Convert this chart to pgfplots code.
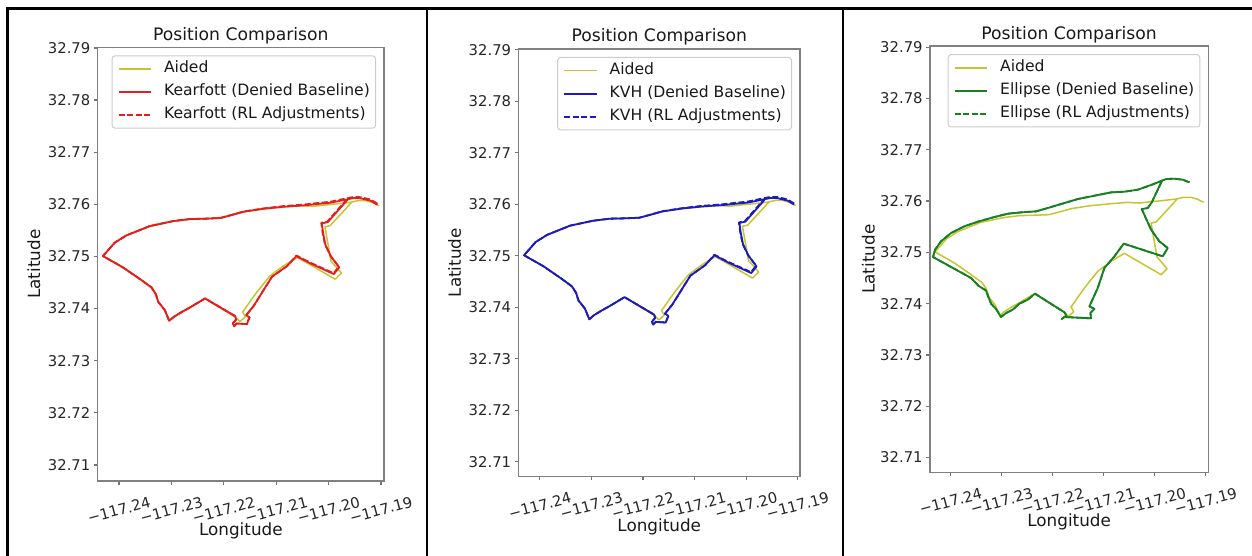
\documentclass[border=0pt]{standalone}
\usepackage{fontspec}
\setmainfont{DejaVu Sans}
\usepackage{pgfplots}
\pgfplotsset{compat=1.18}
\usepackage{pgfplotstable}

\definecolor{aided}{RGB}{200,196,48}
\definecolor{kred}{RGB}{228,30,30}
\definecolor{kblue}{RGB}{28,28,190}
\definecolor{kgreen}{RGB}{22,128,34}

% longitude / latitude are read as text and shifted exactly (no precision loss)
\def\lonstrip-117.#1\relax{\def\pgfmathresult{-0.#1}}
\def\latstrip32.#1\relax{\def\pgfmathresult{0.#1}}
\newcommand\tl[1]{\mbox{\fontsize{7.4}{8}\selectfont #1}}

\pgfplotstableread{
lon lat
-117.19038 32.75974
-117.19156 32.76033
-117.19287 32.76072
-117.19431 32.76072
-117.19581 32.76039
-117.19810 32.76013
-117.20071 32.75987
-117.20300 32.75961
-117.20529 32.75974
-117.20855 32.75948
-117.21241 32.75912
-117.21624 32.75855
-117.21879 32.75784
-117.22071 32.75734
-117.22390 32.75722
-117.22646 32.75716
-117.22965 32.75677
-117.23412 32.75583
-117.23859 32.75404
-117.24082 32.75264
-117.24306 32.75008
-117.23923 32.74790
-117.23572 32.74547
-117.23380 32.74406
-117.23297 32.74278
-117.23252 32.74131
-117.23125 32.73971
-117.23042 32.73766
-117.22952 32.73843
-117.22805 32.73933
-117.22646 32.74022
-117.22358 32.74195
-117.21770 32.73831
-117.21692 32.73753
-117.21587 32.73844
-117.21640 32.73935
-117.21378 32.74305
-117.21117 32.74630
-117.20855 32.74825
-117.20594 32.74981
-117.19875 32.74565
-117.19757 32.74682
-117.19954 32.74909
-117.20071 32.75571
-117.19973 32.75591
-117.19810 32.75766
-117.19548 32.76052
}\aided

\pgfplotstableread{
lon lat
-117.19070 32.75993
-117.19197 32.76070
-117.19389 32.76115
-117.19517 32.76121
-117.19708 32.76083
-117.19964 32.76031
-117.20219 32.76006
-117.20474 32.75980
-117.20858 32.75955
-117.21241 32.75916
-117.21624 32.75859
-117.21879 32.75788
-117.22071 32.75737
-117.22390 32.75724
-117.22646 32.75718
-117.22965 32.75679
-117.23412 32.75583
-117.23859 32.75404
-117.24082 32.75264
-117.24306 32.75008
-117.23923 32.74790
-117.23572 32.74547
-117.23380 32.74406
-117.23297 32.74278
-117.23252 32.74131
-117.23125 32.73971
-117.23042 32.73766
-117.22952 32.73843
-117.22805 32.73933
-117.22646 32.74022
-117.22358 32.74195
-117.21784 32.73856
-117.21764 32.73792
-117.21828 32.73715
-117.21803 32.73664
-117.21752 32.73715
-117.21560 32.73702
-117.21509 32.73830
-117.21573 32.73875
-117.21432 32.74048
-117.21241 32.74355
-117.21081 32.74611
-117.20794 32.74816
-117.20615 32.75008
-117.20347 32.74867
-117.19900 32.74662
-117.19798 32.74790
-117.19951 32.74995
-117.20059 32.75219
-117.20104 32.75443
-117.20130 32.75635
-117.20015 32.75660
-117.19644 32.76083
}\kearfott

\pgfplotstableread{
lon lat
-117.19070 32.76013
-117.19197 32.76092
-117.19389 32.76137
-117.19517 32.76143
-117.19708 32.76105
-117.19964 32.76051
-117.20219 32.76024
-117.20474 32.75996
-117.20858 32.75967
-117.21241 32.75922
-117.21624 32.75862
-117.21879 32.75790
-117.22071 32.75737
-117.22390 32.75724
-117.22646 32.75718
-117.22965 32.75679
-117.23412 32.75583
-117.23859 32.75404
-117.24082 32.75264
-117.24306 32.75008
-117.23923 32.74790
-117.23572 32.74547
-117.23380 32.74406
-117.23297 32.74278
-117.23252 32.74131
-117.23125 32.73971
-117.23042 32.73766
-117.22952 32.73843
-117.22805 32.73933
-117.22646 32.74022
-117.22358 32.74195
-117.21784 32.73856
-117.21764 32.73792
-117.21828 32.73715
-117.21803 32.73664
-117.21752 32.73715
-117.21560 32.73702
-117.21509 32.73830
-117.21573 32.73875
-117.21432 32.74048
-117.21241 32.74355
-117.21081 32.74611
-117.20794 32.74816
-117.20615 32.75018
-117.20347 32.74880
-117.19905 32.74680
-117.19805 32.74805
-117.19960 32.75005
-117.20068 32.75229
-117.20114 32.75453
-117.20140 32.75645
-117.20025 32.75670
-117.19654 32.76093
}\kearfottrl

\pgfplotstableread{
lon lat
-117.19319 32.76364
-117.19450 32.76416
-117.19614 32.76435
-117.19777 32.76429
-117.19875 32.76390
-117.20071 32.76312
-117.20333 32.76221
-117.20594 32.76182
-117.20855 32.76169
-117.21182 32.76104
-117.21509 32.76039
-117.21770 32.75961
-117.22097 32.75864
-117.22326 32.75799
-117.22620 32.75779
-117.22882 32.75753
-117.23143 32.75688
-117.23470 32.75597
-117.23731 32.75507
-117.23993 32.75377
-117.24189 32.75214
-117.24306 32.75052
-117.24346 32.74909
-117.23600 32.74500
-117.23457 32.74351
-117.23306 32.74253
-117.23261 32.74130
-117.23208 32.74000
-117.23110 32.73896
-117.23012 32.73740
-117.22914 32.73818
-117.22784 32.73883
-117.22653 32.74000
-117.22489 32.74078
-117.22346 32.74195
-117.21770 32.73831
-117.21731 32.73766
-117.21823 32.73701
-117.21770 32.73740
-117.21248 32.73714
-117.21260 32.73818
-117.21182 32.73896
-117.21280 32.73948
-117.21117 32.74305
-117.20986 32.74695
-117.20790 32.74922
-117.20607 32.75169
-117.19842 32.74922
-117.19744 32.75084
-117.19908 32.75214
-117.20071 32.75442
-117.20254 32.75844
-117.20136 32.75864
-117.20058 32.75974
-117.19862 32.76383
}\ellipse

\pgfplotsset{
  panel/.style={
    scale only axis, anchor=south west, clip=true,
    /pgf/number format/assume math mode=true,
    x coord trafo/.code={\lonstrip##1\relax},
    y coord trafo/.code={\latstrip##1\relax},
    axis line style={black!50, line width=0.6pt},
    tick align=outside, xtick pos=left, ytick pos=left,
    major tick length=2pt,
    every tick/.style={black!55, line width=0.6pt},
    xtick={-117.24,-117.23,-117.22,-117.21,-117.20,-117.19},
    xticklabels={\tl{−117.24},\tl{−117.23},\tl{−117.22},\tl{−117.21},\tl{−117.20},\tl{−117.19}},
    ytick={32.71,32.72,32.73,32.74,32.75,32.76,32.77,32.78,32.79},
    yticklabels={\tl{32.71},\tl{32.72},\tl{32.73},\tl{32.74},\tl{32.75},\tl{32.76},\tl{32.77},\tl{32.78},\tl{32.79}},
    tick label style={font=\fontsize{7.4}{8}\selectfont, text=black!85},
    xticklabel style={rotate=15, anchor=center, inner sep=0pt},
    xticklabel shift=12.5pt,
    yticklabel style={anchor=east, inner sep=0pt, xshift=-1.5pt},
    every axis title shift=0pt,
    title style={font=\fontsize{8.6}{10}\selectfont, text=black!90, anchor=base, yshift=3.5pt},
    xlabel style={font=\fontsize{8.4}{10}\selectfont, text=black!90, at={(axis description cs:0.5,0)}, anchor=base, yshift=-27.3pt},
    ylabel style={font=\fontsize{8.4}{10}\selectfont, text=black!90, anchor=base},
    title={Position Comparison},
    xlabel={Longitude}, ylabel={Latitude},
    legend cell align=left,
    legend style={at={(1,1)}, anchor=north east, xshift=-4pt, yshift=-4pt,
      draw=black!20, line width=0.5pt, rounded corners=1.5pt, fill=white,
      inner xsep=2.8pt, inner ysep=2.6pt, row sep=3.5pt,
      font=\fontsize{7.8}{9}\selectfont, text=black!90,
      nodes={inner sep=0pt, text height=5.9pt, text depth=2.1pt},
      /tikz/every odd column/.append style={column sep=6.15pt}},
    legend image code/.code={\draw[##1] (0pt,0pt) -- (16.15pt,0pt);},
  },
  aidedline/.style={color=aided, line width=0.75pt, line join=round},
  baseline/.style={color=#1, line width=0.9pt, line join=round},
  rlline/.style={color=#1, line width=0.9pt, dash pattern=on 3pt off 1.3pt, line join=round},
}

\begin{document}
\begin{tikzpicture}
\path[use as bounding box] (0,0) rectangle (626pt,278pt);
\draw[line width=1.25pt] (3.65pt,0pt) -- (3.65pt,273.85pt) -- (626pt,273.85pt);
\draw[line width=1.1pt] (213.35pt,0pt) -- (213.35pt,273.85pt);
\draw[line width=1.1pt] (421.35pt,0pt) -- (421.35pt,273.85pt);

% Panel 1: Kearfott
\begin{axis}[panel, at={(48.85pt,37.5pt)}, width=143.15pt, height=216.85pt,
  xmin=-117.24406, xmax=-117.18943, ymin=32.70693, ymax=32.79013,
  ylabel style={at={(axis description cs:-0.2015,0.5)}}]
\addplot[aidedline] table[x=lon,y=lat] {\aided};
\addlegendentry{Aided}
\addplot[baseline=kred] table[x=lon,y=lat] {\kearfott};
\addlegendentry{Kearfott (Denied Baseline)}
\addplot[rlline=kred] table[x=lon,y=lat] {\kearfottrl};
\addlegendentry{Kearfott (RL Adjustments)}
\end{axis}

% Panel 2: KVH
\begin{axis}[panel, at={(259.25pt,39.75pt)}, width=140.75pt, height=213.8pt,
  xmin=-117.24414, xmax=-117.18955, ymin=32.70713, ymax=32.79014,
  ylabel style={at={(axis description cs:-0.205,0.5)}}]
\addplot[aidedline] table[x=lon,y=lat] {\aided};
\addlegendentry{Aided}
\addplot[baseline=kblue] table[x=lon,y=lat] {\kearfott};
\addlegendentry{KVH (Denied Baseline)}
\addplot[rlline=kblue] table[x=lon,y=lat] {\kearfottrl};
\addlegendentry{KVH (RL Adjustments)}
\end{axis}

% Panel 3: Ellipse
\begin{axis}[panel, at={(465pt,41.9pt)}, width=139.15pt, height=213.05pt,
  xmin=-117.24405, xmax=-117.18949, ymin=32.70715, ymax=32.79020,
  ylabel style={at={(axis description cs:-0.1994,0.5)}}]
\addplot[aidedline] table[x=lon,y=lat] {\aided};
\addlegendentry{Aided}
\addplot[baseline=kgreen] table[x=lon,y=lat] {\ellipse};
\addlegendentry{Ellipse (Denied Baseline)}
\addplot[rlline=kgreen] table[x=lon,y=lat] {\ellipse};
\addlegendentry{Ellipse (RL Adjustments)}
\end{axis}
\end{tikzpicture}
\end{document}
